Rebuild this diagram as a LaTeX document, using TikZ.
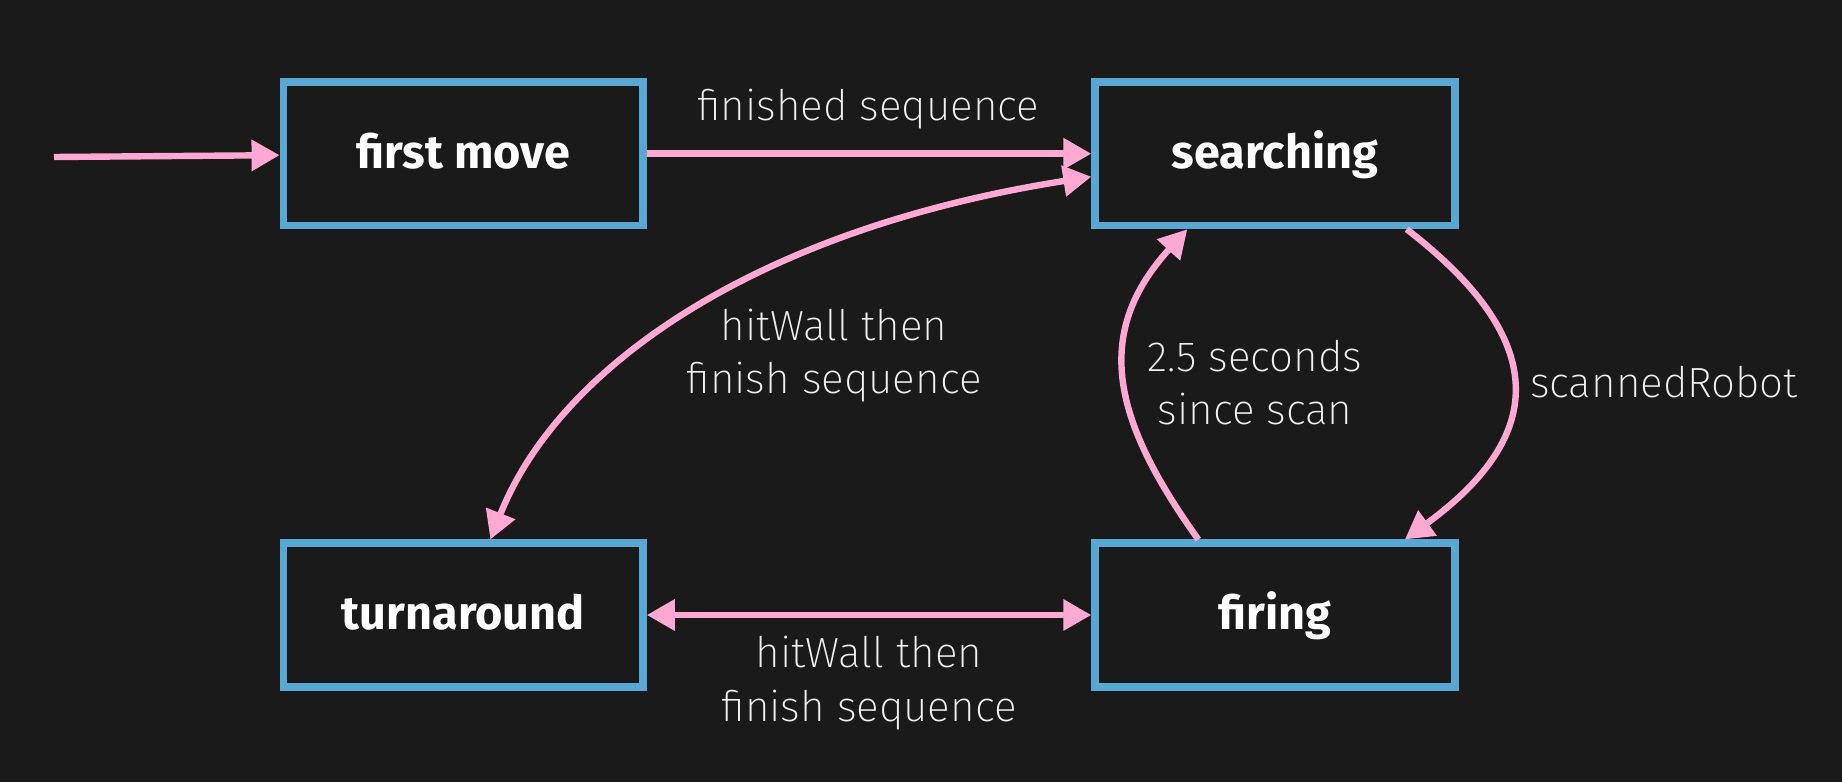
\documentclass[tikz,border=0pt]{standalone}
\usepackage{fontspec}
\setmainfont{Fira Sans}
\newfontfamily\thinfont{Fira Sans ExtraLight}
\newfontfamily\heavyfont{Fira Sans Bold}
\usetikzlibrary{arrows.meta,calc}
\definecolor{bgcol}{HTML}{1A1A1A}
\definecolor{boxblue}{HTML}{58A8D3}
\definecolor{arrowpink}{HTML}{FFA8D2}
\definecolor{lblcol}{HTML}{F0F0F0}
\tikzset{
  state/.style={draw=boxblue, line width=0.075cm, fill=bgcol, rectangle,
    minimum width=3.595cm, minimum height=1.435cm, inner sep=0pt,
    text=white, font=\heavyfont\fontsize{13.3pt}{15pt}\selectfont,
    text height=0.35cm, text depth=0.058cm},
  lbl/.style={text=lblcol, font=\thinfont\fontsize{12pt}{14pt}\selectfont, inner sep=0pt, anchor=base},
  arr/.style={draw=arrowpink, line width=0.064cm, -{Triangle[length=0.28cm,width=0.30cm]}},
  arrboth/.style={draw=arrowpink, line width=0.064cm, {Triangle[length=0.28cm,width=0.30cm]}-{Triangle[length=0.28cm,width=0.30cm]}}
}
\begin{document}
\begin{tikzpicture}[x=0.01cm,y=-0.01cm]
\fill[bgcol] (0,0) rectangle (1842,782);
\useasboundingbox (0,0) rectangle (1842,782);

\node[state] (fm) at (463.2,153.7) {first move};
\node[state] (se) at (1274.9,153.7) {searching};
\node[state] (tu) at (463.2,615) {turnaround};
\node[state] (fi) at (1274.9,615) {firing};

\coordinate (init) at (54,157);

\draw[arr] (init) -- (fm);
\draw[arr] (fm) -- (se);
\draw[arrboth] (tu) -- (fi);
\draw[arrboth] ($(se.west)+(0,23)$) .. controls +(-335.9,52.7) and +(68,-172.1) .. ($(tu.north)+(27.2,0)$);
\draw[arr] ($(fi.north)+(-76.6,0)$) .. controls +(-87,-121.5) and +(-94.2,103.5) .. ($(se.south)+(-87.6,0)$);
\draw[arr] ($(se.south)+(131.8,0)$) .. controls +(141.4,109.2) and +(144.5,-105.6) .. ($(fi.north)+(130,0)$);

\node[lbl] (l1) at (868.4,120.7) {finished sequence};
\node[lbl] (l2a) at (834,340.7) {hitWall then};
\node[lbl] (l2b) at (834,393.3) {finish sequence};
\node[lbl] (l3a) at (1255,371.5) {2.5 seconds};
\node[lbl] (l3b) at (1255,424) {since scan};
\node[lbl] (l4) at (1664,397.3) {scannedRobot};
\node[lbl] (l5a) at (869,667.7) {hitWall then};
\node[lbl] (l5b) at (869,721) {finish sequence};
\end{tikzpicture}
\end{document}
